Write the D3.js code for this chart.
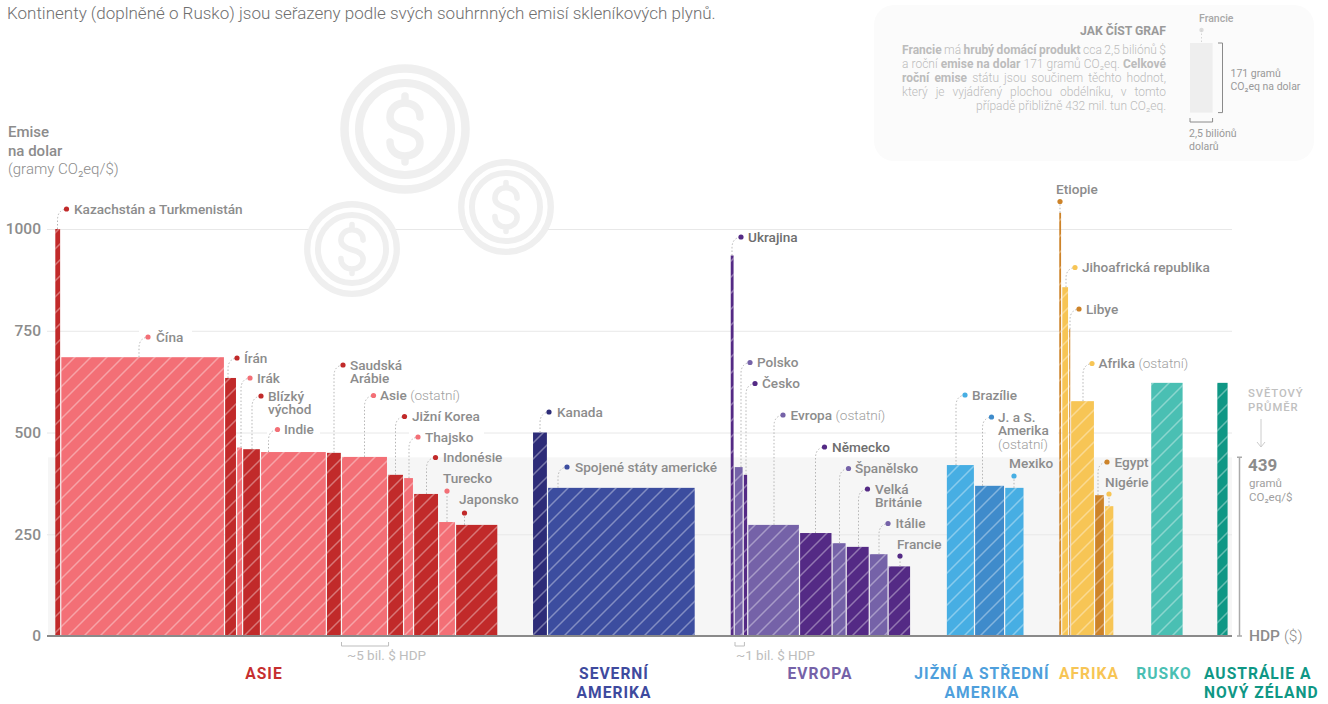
<!DOCTYPE html>
<html>
<head>
<meta charset="utf-8">
<style>
    body { margin: 0; background: #fff; }
    svg { display: block; font-family: Roboto, sans-serif; }
    .label { font-size: 13.6px; font-weight: 500; fill: #8c8c8c; }
    .label .other { font-weight: 300; fill: #a0a0a0; }
    .strong { fill: #6e6e6e; }
    .axisY text { font-size: 15.5px; font-weight: 500; fill: #8c8c8c; font-family: Roboto, sans-serif; }
    .axisY line { stroke: #e8e8e8; }
    .axisY .domain { display: none; }
</style>
</head>
<body>
<svg id="chart" width="1328" height="704"></svg>
<script src="https://cdn.jsdelivr.net/npm/d3@7"></script>
<script>
    // values
    let countries = ["Kazachstán a Turkmenistán", "Čína", "Írán", "Irák", "Blízký|východ", "Indie", "Saudská|Arábie", "Asie (ostatní)", "Jižní Korea", "Thajsko", "Indonésie", "Turecko", "Japonsko",
        "Kanada", "Spojené státy americké",
        "Ukrajina", "Polsko", "Česko", "Evropa (ostatní)", "Německo", "Španělsko", "Velká|Británie", "Itálie", "Francie",
        "Brazílie", "J. a S.|Amerika|(ostatní)", "Mexiko",
        "Etiopie", "Jihoafrická republika", "Libye", "Afrika (ostatní)", "Egypt", "Nigérie",
        "", ""]
    let gdp = [0.64, 17.4, 1.28, 0.64, 1.9, 7.0, 1.6, 4.9, 1.7, 1.06, 2.66, 1.8, 4.5,
        1.6, 15.7,
        0.43, 0.96, 0.48, 5.5, 3.46, 1.5, 2.45, 2.0, 2.4,
        3.0, 3.2, 2.07,
        0.32, 0.74, 0.2, 2.55, 1.06, 1.0,
        3.46, 1.22]
    let emissions = [1000, 685, 634, 463, 459, 452, 450, 440, 396, 388, 349, 280, 273,
        500, 364,
        935, 415, 396, 273, 253, 228, 219, 201, 171,
        420, 369, 364,
        1040, 857, 754, 577, 346, 319,
        622, 622]
    let groupIndex = [0, 0, 0, 0, 0, 0, 0, 0, 0, 0, 0, 0, 0, 1, 1, 2, 2, 2, 2, 2, 2, 2, 2, 2, 3, 3, 3, 4, 4, 4, 4, 4, 4, 5, 6]
    let groupGaps = [0, 3.67, 3.7, 3.78, 3.67, 3.9, 3.56]
    let groupNames = [["ASIE"], ["SEVERNÍ", "AMERIKA"], ["EVROPA"], ["JIŽNÍ A STŘEDNÍ", "AMERIKA"], ["AFRIKA"], ["RUSKO"], ["AUSTRÁLIE A", "NOVÝ ZÉLAND"]]
    let yTicks = [0, 250, 500, 750, 1000]
    let worldAverage = 439
    let franceGdp = 2.4
    let franceEmissions = 171

    let groupColors = [["#c12a2a", "#f36f76"], ["#2d2c78", "#3c4d9f"], ["#542a85", "#7562a8"], ["#47aee3", "#3f8bcb"], ["#cd8329", "#f7c555"], ["#4abfb3", "#4abfb3"], ["#0f9785", "#0f9785"]]
    let groupTextColors = ["#c62f2f", "#3e4a9e", "#7562a8", "#4e9fdc", "#f7c555", "#4abfb3", "#0f9785"]
    let groupTextPos = [[264, "middle"], [614, "middle"], [820, "middle"], [982, "middle"], [1089, "middle"], [1164, "middle"], [1204, "start"]]

    // dot x, dot y, text x, text baseline (null = beside the dot)
    let labelPos = [[66.5, 209, 74], [148, 337, 156], [237, 358, 244], [250, 378, 257], [261, 396, 268], [277.5, 429.5, 284],
        [343, 365, 350], [373.5, 395.5, 380], [404.5, 416.5, 412], [418, 437, 425], [435.5, 457.5, 443], [447, 491, 443, 483], [464.5, 513, 459, 504],
        [549, 412, 557], [567, 467, 575],
        [741, 237, 748], [750, 362.5, 757], [755, 383.5, 762], [783, 415, 790.5], [824.5, 447, 832], [848.5, 468.5, 855], [867.5, 489, 875], [888, 523.5, 895.5], [900, 556, 897, 549],
        [965, 395, 972], [991.5, 417, 998], [1014, 476, 1009, 468],
        [1060, 201.5, 1056, 194], [1075, 267.5, 1082], [1079, 309, 1086], [1092, 363.5, 1098.5], [1107, 462, 1114.5], [1109, 494, 1105, 487]]

    let svg = d3.select("#chart")

    let baseY = 636
    let x0 = 55.3
    let x1 = 1228.8
    let total = d3.sum(gdp) + d3.sum(groupGaps)

    let scaleX = d3.scaleLinear().domain([0, total]).range([x0, x1])
    let scaleY = d3.scaleLinear().domain([0, 1000]).range([baseY, 229])

    // running position of every bar along the gdp axis
    let bars = []
    let pos = 0
    gdp.forEach((g, i) => {
        let group = groupIndex[i]
        if (i > 0 && group != groupIndex[i - 1]) pos += groupGaps[group]
        let first = groupIndex.indexOf(group)
        bars.push({
            name: countries[i], start: pos, end: pos + g, value: emissions[i], group: group,
            color: groupColors[group][(i - first) % 2]
        })
        pos += g
    })

    let defs = svg.append("defs")
    defs.append("pattern")
        .attr("id", "hatch")
        .attr("patternUnits", "userSpaceOnUse")
        .attr("width", 16)
        .attr("height", 16)
        .append("path")
        .attr("d", "M-2,2 L2,-2 M0,16 L16,0 M14,18 L18,14")
        .attr("stroke", "#fff")
        .attr("stroke-opacity", 0.36)
        .attr("stroke-width", 1.5)

    // world average band
    svg.append("rect")
        .attr("x", 48)
        .attr("width", 1184)
        .attr("y", scaleY(worldAverage))
        .attr("height", baseY - scaleY(worldAverage))
        .attr("fill", "#f6f6f6")

    let yAxisObj = d3.axisLeft(scaleY)
        .tickValues(yTicks)
        .tickSize(-1185)
        .tickPadding(6)
        .tickFormat(d3.format("d"))
    svg.append("g")
        .attr("class", "axisY")
        .attr("transform", "translate(47,0)")
        .call(yAxisObj)

    // gridline gaps behind the labels that sit on a line
    let gridGaps = [[139, 192, 750], [267, 320, 500], [409, 484, 500], [986, 1058, 500]]
    svg.selectAll(".gridGap")
        .data(gridGaps)
        .enter()
        .append("rect")
        .attr("x", d => d[0])
        .attr("width", d => d[1] - d[0])
        .attr("y", d => scaleY(d[2]) - 2)
        .attr("height", 4)
        .attr("fill", "#fff")

    // decorative coins
    let dollar = "M15,-12 C15,-21 8,-26 0,-26 C-9,-26 -15,-20 -15,-12 C-15,-4 -8,-1 0,1 C8,3 15,6 15,14 C15,22 8,27 0,27 C-9,27 -15,21 -15,13 M0,-33 V-26 M0,27 V33"
    let coins = [[405, 129, 1], [506, 207, 0.74], [352, 249, 0.74]]
    let coin = svg.selectAll(".coin")
        .data(coins)
        .enter()
        .append("g")
        .attr("transform", d => `translate(${d[0]},${d[1]}) scale(${d[2]})`)
    coin.append("circle").attr("r", 60.5).attr("fill", "#fff").attr("stroke", "#efefef").attr("stroke-width", 8.5)
    coin.append("circle").attr("r", 46).attr("fill", "none").attr("stroke", "#efefef").attr("stroke-width", 8)
    coin.append("path").attr("d", dollar).attr("fill", "none").attr("stroke", "#efefef").attr("stroke-width", 7.5).attr("stroke-linecap", "round")

    // bars
    let barGroup = svg.selectAll(".bar")
        .data(bars)
        .enter()
        .append("g")
    barGroup.append("rect")
        .attr("x", d => scaleX(d.start))
        .attr("width", d => Math.max(scaleX(d.end) - scaleX(d.start) - 1.2, 1))
        .attr("y", d => scaleY(d.value))
        .attr("height", d => baseY - scaleY(d.value))
        .attr("fill", d => d.color)
    barGroup.append("rect")
        .attr("x", d => scaleX(d.start))
        .attr("width", d => Math.max(scaleX(d.end) - scaleX(d.start) - 1.2, 1))
        .attr("y", d => scaleY(d.value))
        .attr("height", d => baseY - scaleY(d.value))
        .attr("fill", "url(#hatch)")

    svg.append("line")
        .attr("x1", 47).attr("x2", 1232)
        .attr("y1", baseY).attr("y2", baseY)
        .attr("stroke", "#8a8a8a")
        .attr("stroke-width", 2)

    // leaders, dots and country names
    labelPos.forEach((p, i) => {
        let bar = bars[i]
        let dx = p[0], dy = p[1], tx = p[2], ty = p[3]
        let top = scaleY(bar.value)
        let d
        if (ty != null) {
            d = `M${dx},${top} V${dy}`
        } else {
            let ax = dx - 9
            d = `M${ax},${top} V${Math.min(dy + 11, top)} Q${ax},${dy + 1} ${dx},${dy}`
        }
        svg.append("path")
            .attr("d", d)
            .attr("fill", "none")
            .attr("stroke", "#b5b5b5")
            .attr("stroke-width", 1)
            .attr("stroke-dasharray", "1.5 2")
        svg.append("circle")
            .attr("cx", dx).attr("cy", dy).attr("r", 2.6)
            .attr("fill", bar.color)

        let lines = bar.name.split("|")
        let base = ty != null ? ty : dy + 4.5
        lines.forEach((line, k) => {
            let t = svg.append("text")
                .attr("class", "label")
                .classed("strong", bar.name == "Ukrajina" || bar.name == "Německo")
                .attr("x", tx)
                .attr("y", base + k * 13.5)
            let cut = line.indexOf("(")
            if (cut > 0) {
                t.append("tspan").text(line.slice(0, cut))
                t.append("tspan").attr("class", "other").text(line.slice(cut))
            } else if (cut == 0) {
                t.append("tspan").attr("class", "other").text(line)
            } else {
                t.text(line)
            }
        })
    })

    // continent names
    groupNames.forEach((lines, i) => {
        lines.forEach((line, k) => {
            svg.append("text")
                .attr("x", groupTextPos[i][0])
                .attr("y", 679 + k * 19)
                .attr("text-anchor", groupTextPos[i][1])
                .attr("font-size", 15.6)
                .attr("font-weight", 700)
                .attr("letter-spacing", 1)
                .attr("fill", groupTextColors[i])
                .text(line)
        })
    })

    // gdp size keys
    function gdpKey(startX, bil, text) {
        let w = scaleX(bil) - scaleX(0)
        svg.append("path")
            .attr("d", `M${startX},642 V646 H${startX + w} V642`)
            .attr("fill", "none")
            .attr("stroke", "#bdbdbd")
            .attr("stroke-width", 1)
        svg.append("text")
            .attr("x", startX + (bil > 1 ? 5.5 : 1))
            .attr("y", 660)
            .attr("font-size", 13.5)
            .attr("fill", "#bdbdbd")
            .text(text)
    }
    gdpKey(341.5, 5, "~5 bil. $ HDP")
    gdpKey(735, 1, "~1 bil. $ HDP")

    // world average notes on the right
    svg.append("path")
        .attr("d", `M1237,${scaleY(worldAverage)} H1242 M1239.5,${scaleY(worldAverage)} V${baseY} M1237,${baseY} H1242`)
        .attr("fill", "none")
        .attr("stroke", "#aaa")
        .attr("stroke-width", 1.5)
    svg.append("path")
        .attr("d", "M1261,419 V447 M1257,442 L1261,447 L1265,442")
        .attr("fill", "none")
        .attr("stroke", "#ccc")
        .attr("stroke-width", 1)

    function note(x, y, size, weight, color, text, spacing) {
        return svg.append("text")
            .attr("x", x).attr("y", y)
            .attr("font-size", size)
            .attr("font-weight", weight)
            .attr("fill", color)
            .attr("letter-spacing", spacing || 0)
            .text(text)
    }
    note(1248, 397, 11.3, 500, "#c0c0c0", "SVĚTOVÝ", 0.9)
    note(1248, 411, 11.3, 500, "#c0c0c0", "PRŮMĚR", 0.9)
    note(1248, 471, 17, 700, "#8c8c8c", worldAverage)
    note(1249, 487, 11.5, 400, "#a0a0a0", "gramů")
    note(1249, 501, 11.5, 400, "#a0a0a0", "CO₂eq/$")
    let hdp = note(1249, 641, 15.5, 500, "#8c8c8c", "HDP ")
    hdp.append("tspan").attr("font-weight", 300).text("($)")

    // headings
    note(7, 19, 17, 300, "#6f6f6f", "Kontinenty (doplněné o Rusko) jsou seřazeny podle svých souhrnných emisí skleníkových plynů.")
    note(8, 137, 15, 500, "#8c8c8c", "Emise")
    note(8, 156, 15, 500, "#8c8c8c", "na dolar")
    note(8, 174, 15, 300, "#8c8c8c", "(gramy CO₂eq/$)")

    // how to read panel
    svg.append("rect")
        .attr("x", 874).attr("y", 5)
        .attr("width", 440).attr("height", 156)
        .attr("rx", 20)
        .attr("fill", "#fbfbfb")
    note(1166, 35, 12.2, 700, "#9a9a9a", "JAK ČÍST GRAF").attr("text-anchor", "end")

    let howTo = [
        [["Francie", 1], [" má ", 0], ["hrubý domácí produkt", 1], [" cca 2,5 biliónů $", 0]],
        [["a roční ", 0], ["emise na dolar", 1], [" 171 gramů CO₂eq. ", 0], ["Celkové", 1]],
        [["roční emise", 1], [" státu jsou součinem těchto hodnot,", 0]],
        [["který je vyjádřený plochou obdélníku, v tomto", 0]],
        [["případě přibližně 432 mil. tun CO₂eq.", 0]]
    ]
    howTo.forEach((parts, i) => {
        let t = svg.append("text")
            .attr("y", 54 + i * 14)
            .attr("font-size", 12)
        parts.forEach(p => {
            t.append("tspan")
                .attr("font-weight", p[1] ? 700 : 300)
                .attr("fill", "#bcbcbc")
                .style("white-space", "pre")
                .text(p[0])
        })
        // justified block, last line only aligned right
        let width = t.node().getComputedTextLength()
        let joined = parts.map(p => p[0]).join("")
        let spaces = joined.split(" ").length - 1
        if (i < howTo.length - 1) {
            t.attr("word-spacing", (264 - width) / spaces)
            t.attr("x", 902)
        } else {
            t.attr("x", 1166).attr("text-anchor", "end")
        }
    })

    // France key, sized with the chart's own scales
    let keyW = scaleX(franceGdp) - scaleX(0)
    let keyH = baseY - scaleY(franceEmissions)
    svg.append("rect")
        .attr("x", 1190).attr("y", 43)
        .attr("width", keyW).attr("height", keyH)
        .attr("fill", "#eeeeee")
    note(1199, 22, 10.5, 500, "#a8a8a8", "Francie")
    svg.append("circle").attr("cx", 1201.5).attr("cy", 30).attr("r", 2.2).attr("fill", "#dcdcdc")
    svg.append("line")
        .attr("x1", 1201.5).attr("x2", 1201.5).attr("y1", 30).attr("y2", 42)
        .attr("stroke", "#d5d5d5").attr("stroke-dasharray", "1.5 2")
    svg.append("path")
        .attr("d", `M1218,43 H1222.5 V${43 + keyH} H1218`)
        .attr("fill", "none").attr("stroke", "#8a8a8a")
    svg.append("path")
        .attr("d", `M1190,118 V122 H${1190 + keyW} V118`)
        .attr("fill", "none").attr("stroke", "#8a8a8a")
    note(1230.5, 77, 10.5, 400, "#999", "171 gramů")
    note(1230.5, 90, 10.5, 400, "#999", "CO₂eq na dolar")
    note(1189, 137, 10.5, 400, "#999", "2,5 biliónů")
    note(1189, 150, 10.5, 400, "#999", "dolarů")
</script>
</body>
</html>
